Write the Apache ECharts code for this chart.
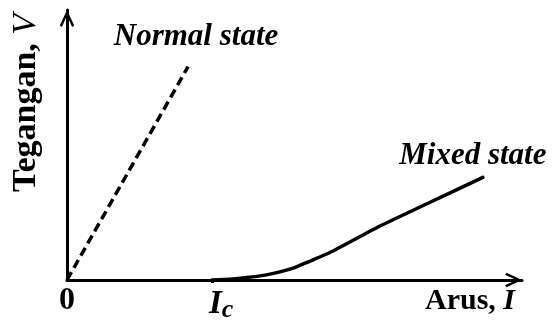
<!DOCTYPE html>
<html>
<head>
<meta charset="utf-8">
<script src="https://cdn.jsdelivr.net/npm/echarts@6/dist/echarts.min.js"></script>
<style>
  html, body { margin: 0; padding: 0; background: #fff; }
  #chart { width: 558px; height: 323px; }
</style>
</head>
<body>
<div id="chart"></div>
<script>
// Critical current on the current axis
const IC = 3.19;

// Normal-state branch: straight ohmic line from the origin
const normalX = [0, 2.66];
const normalV = [0, 7.90];

// Mixed-state branch: zero voltage up to Ic, then a rising curve
const mixedX = [IC, 3.58, 3.96, 4.35, 4.68, 5.00, 5.27, 5.78, 6.88, 7.98, 9.14];
const mixedV = [0, 0.03, 0.09, 0.18, 0.30, 0.46, 0.65, 1.02, 2.00, 2.88, 3.80];

// Tick labels drawn on the current axis
const xTickValues = [0, IC];

const FONT = '"Liberation Serif", "DejaVu Serif", serif';
const zip = (xs, ys) => xs.map((x, i) => [x, ys[i]]);

// Open arrowhead (chevron) pointing up; the axis rotates it along its direction
const ARROW = 'path://M0,15 L7,0 L14,15 L12,16.5 L7,5.5 L2,16.5 Z';

const chart = echarts.init(document.getElementById('chart'));
chart.setOption({
  backgroundColor: '#fff',
  animation: false,
  grid: { left: 67, right: 36, top: 10, bottom: 42 },
  xAxis: {
    type: 'value',
    min: 0,
    max: 10,
    splitLine: { show: false },
    axisLine: {
      lineStyle: { color: '#000', width: 3 },
      symbol: ['none', ARROW],
      symbolSize: [15, 17],
      symbolOffset: [0, -8.5]
    },
    axisTick: {
      show: true,
      customValues: [IC],
      length: 3,
      lineStyle: { color: '#000', width: 3 }
    },
    axisLabel: {
      customValues: xTickValues,
      margin: 5,
      color: '#000',
      fontFamily: FONT,
      formatter: v => (v === 0 ? '{zero|0}' : '{ic|I}{sub|c}'),
      rich: {
        zero: { fontFamily: FONT, fontWeight: 'bold', fontSize: 32, color: '#000' },
        ic: { fontFamily: FONT, fontWeight: 'bold', fontStyle: 'italic', fontSize: 33, color: '#000', padding: [0, 0, 0, 18] },
        sub: { fontFamily: FONT, fontWeight: 'bold', fontStyle: 'italic', fontSize: 26, color: '#000', padding: [12, 0, 0, 0], verticalAlign: 'bottom' }
      }
    },
    name: '{b|Arus, }{i|I}',
    nameLocation: 'end',
    nameGap: -7,
    nameTextStyle: {
      align: 'right',
      verticalAlign: 'top',
      padding: [6, 0, 0, 0],
      rich: {
        b: { fontFamily: FONT, fontWeight: 'bold', fontSize: 30, color: '#000' },
        i: { fontFamily: FONT, fontWeight: 'bold', fontStyle: 'italic', fontSize: 30, color: '#000' }
      }
    }
  },
  yAxis: {
    type: 'value',
    min: 0,
    max: 10,
    splitLine: { show: false },
    axisTick: { show: false },
    axisLabel: { show: false },
    axisLine: {
      lineStyle: { color: '#000', width: 3 },
      symbol: ['none', ARROW],
      symbolSize: [15, 17],
      symbolOffset: [0, -8.5]
    },
    name: '{b|Tegangan, }{i|V}',
    nameLocation: 'middle',
    nameRotate: 90,
    nameGap: 24,
    nameTextStyle: {
      padding: [0, 0, 0, 84],
      rich: {
        b: { fontFamily: FONT, fontWeight: 'bold', fontSize: 34, color: '#000' },
        i: { fontFamily: FONT, fontStyle: 'italic', fontSize: 34, color: '#000' }
      }
    }
  },
  series: [
    {
      name: 'Normal state',
      type: 'line',
      data: zip(normalX, normalV),
      showSymbol: false,
      symbol: 'none',
      lineStyle: { color: '#000', width: 3.5, type: [9, 5] },
      endLabel: {
        show: true,
        formatter: 'Normal state',
        distance: 0,
        align: 'center',
        verticalAlign: 'middle',
        offset: [8, -30],
        fontFamily: FONT,
        fontWeight: 'bold',
        fontStyle: 'italic',
        fontSize: 31,
        color: '#000'
      },
      z: 3
    },
    {
      name: 'Mixed state',
      type: 'line',
      data: zip(mixedX, mixedV),
      smooth: 0.15,
      showSymbol: false,
      symbol: 'none',
      lineStyle: { color: '#000', width: 3.5, cap: 'round' },
      endLabel: {
        show: true,
        formatter: 'Mixed state',
        distance: 0,
        align: 'center',
        verticalAlign: 'middle',
        offset: [-10, -21.5],
        fontFamily: FONT,
        fontWeight: 'bold',
        fontStyle: 'italic',
        fontSize: 31,
        color: '#000'
      },
      z: 3
    }
  ]
});
</script>
</body>
</html>
